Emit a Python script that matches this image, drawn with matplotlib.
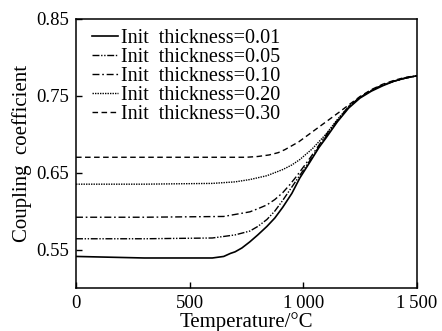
import matplotlib
matplotlib.use("Agg")
import matplotlib.pyplot as plt

plt.rcParams['font.family'] = ['Liberation Serif', 'DejaVu Serif']

# temperature (deg C) and coupling coefficient
temp_001 = [0, 150, 300, 450, 600, 650, 680, 700, 730, 765, 800, 840, 875, 910, 950, 985, 1030, 1070, 1100, 1150, 1200, 1250, 1300, 1350, 1400, 1450, 1500]
coef_001 = [0.541, 0.540, 0.539, 0.539, 0.539, 0.541, 0.545, 0.547, 0.552, 0.560, 0.569, 0.580, 0.591, 0.605, 0.623, 0.643, 0.664, 0.683, 0.695, 0.716, 0.734, 0.747, 0.756, 0.763, 0.769, 0.773, 0.776]

temp_005 = [0, 300, 600, 700, 765, 800, 840, 875, 910, 940, 970, 1030, 1070, 1100, 1150, 1200, 1250, 1300, 1350, 1400, 1450, 1500]
coef_005 = [0.564, 0.564, 0.565, 0.569, 0.574, 0.580, 0.589, 0.600, 0.614, 0.627, 0.640, 0.666, 0.684, 0.697, 0.717, 0.735, 0.748, 0.757, 0.764, 0.769, 0.773, 0.776]

temp_010 = [0, 300, 650, 765, 800, 840, 875, 910, 940, 970, 1030, 1070, 1100, 1150, 1200, 1250, 1300, 1350, 1400, 1450, 1500]
coef_010 = [0.592, 0.592, 0.593, 0.599, 0.603, 0.608, 0.615, 0.624, 0.634, 0.645, 0.669, 0.686, 0.699, 0.718, 0.736, 0.748, 0.757, 0.764, 0.769, 0.773, 0.776]

temp_020 = [0, 300, 600, 700, 765, 840, 910, 950, 985, 1040, 1100, 1150, 1200, 1250, 1300, 1350, 1400, 1450, 1500]
coef_020 = [0.635, 0.635, 0.636, 0.638, 0.641, 0.646, 0.654, 0.660, 0.667, 0.681, 0.700, 0.719, 0.736, 0.748, 0.757, 0.764, 0.769, 0.773, 0.776]

temp_030 = [0, 300, 600, 750, 800, 850, 890, 920, 950, 980, 1040, 1100, 1160, 1200, 1250, 1300, 1350, 1400, 1450, 1500]
coef_030 = [0.670, 0.670, 0.670, 0.670, 0.671, 0.673, 0.676, 0.680, 0.685, 0.690, 0.703, 0.716, 0.729, 0.738, 0.749, 0.758, 0.765, 0.770, 0.774, 0.776]

labels = ["Init  thickness=0.01", "Init  thickness=0.05", "Init  thickness=0.10",
          "Init  thickness=0.20", "Init  thickness=0.30"]

x_ticks = [0, 500, 1000, 1500]
x_tick_labels = ["0", "500", "1\u2009000", "1\u2009500"]
y_ticks = [0.55, 0.65, 0.75, 0.85]
y_tick_labels = ["0.55", "0.65", "0.75", "0.85"]

fig = plt.figure(figsize=(4.42, 3.31), dpi=100)
ax = fig.add_axes([0.172, 0.130, 0.771, 0.813])

lw = 1.0
ax.plot(temp_001, coef_001, color='black', lw=1.2, ls='-', label=labels[0])
ax.plot(temp_005, coef_005, color='black', lw=lw, ls=(0, (5, 1.2, 1, 1.2, 1, 1.2)), label=labels[1])
ax.plot(temp_010, coef_010, color='black', lw=lw, ls=(0, (5, 2, 1.2, 2)), label=labels[2])
ax.plot(temp_020, coef_020, color='black', lw=lw, ls=(0, (1, 0.8)), label=labels[3])
ax.plot(temp_030, coef_030, color='black', lw=lw, ls=(0, (4, 2.5)), label=labels[4])

ax.set_xlim(0, 1500)
ax.set_ylim(0.50, 0.85)
ax.set_xticks(x_ticks)
ax.set_xticklabels(x_tick_labels)
ax.set_yticks(y_ticks)
ax.set_yticklabels(y_tick_labels)
ax.tick_params(direction='in', length=4, width=1, labelsize=13.5, pad=5)

for s in ax.spines.values():
    s.set_linewidth(1.1)

ax.set_xlabel("Temperature/\u00b0C", fontsize=15, labelpad=0)
ax.set_ylabel("Coupling  coefficient", fontsize=15, labelpad=3)

ax.legend(loc='upper left', frameon=False, fontsize=14.5, handlelength=1.3,
          handletextpad=0.15, labelspacing=0.0, borderaxespad=0.1,
          bbox_to_anchor=(0.018, 1.0))

fig.savefig("out.png", dpi=100)
